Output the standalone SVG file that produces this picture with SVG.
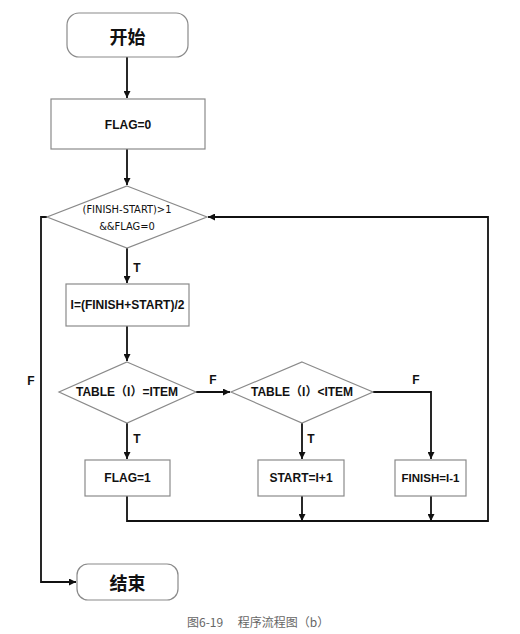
<svg xmlns="http://www.w3.org/2000/svg" width="520" height="634" viewBox="0 0 520 634">
<style>
.node{fill:#fff;stroke:#8a8a8a;stroke-width:1.2}
.t{font-family:"Liberation Sans","Noto Sans CJK SC",sans-serif;font-weight:bold;font-size:12px;fill:#111;text-anchor:middle;dominant-baseline:central}
.cn{font-family:"Noto Sans CJK SC",sans-serif;font-weight:bold;font-size:18px;fill:#111;text-anchor:middle;dominant-baseline:central}
.mono{font-family:"DejaVu Sans Condensed","Liberation Sans",sans-serif;font-size:11px;fill:#111;text-anchor:middle;dominant-baseline:central}
.c{fill:none;stroke:#111;stroke-width:1.8}
.cap{font-family:"Noto Sans CJK SC",sans-serif;font-size:12px;fill:#666}
</style>
<defs>
<marker id="a" viewBox="0 0 10 10" refX="10" refY="5" markerWidth="7" markerHeight="7" markerUnits="userSpaceOnUse" orient="auto">
<path d="M0,0 L10,5 L0,10 z" fill="#111"/>
</marker>
</defs>
<g id="connectors">
<path class="c" d="M127,57 V98" marker-end="url(#a)"/>
<path class="c" d="M127,149 V185" marker-end="url(#a)"/>
<path class="c" d="M127,248 V283" marker-end="url(#a)"/>
<path class="c" d="M127,326 V361" marker-end="url(#a)"/>
<path class="c" d="M196,392 H230" marker-end="url(#a)"/>
<path class="c" d="M127,423 V459" marker-end="url(#a)"/>
<path class="c" d="M302,423 V459" marker-end="url(#a)"/>
<path class="c" d="M373,392 H431 V459" marker-end="url(#a)"/>
<path class="c" d="M127,496 V521 H488 V217 H208" marker-end="url(#a)"/>
<path class="c" d="M302,496 V521" marker-end="url(#a)"/>
<path class="c" d="M431,496 V521" marker-end="url(#a)"/>
<path class="c" d="M47,217 H41 V582 H76" marker-end="url(#a)"/>
<text class="t" x="137" y="268">T</text>
<text class="t" x="137" y="439">T</text>
<text class="t" x="311" y="439">T</text>
<text class="t" x="213" y="380">F</text>
<text class="t" x="416" y="380">F</text>
<text class="t" x="31" y="381">F</text>
</g>
<g id="start">
<rect class="node" x="67" y="13" width="121" height="44" rx="12"/>
<text class="cn" x="127.5" y="36">开始</text>
</g>
<g id="init">
<rect class="node" x="51" y="99" width="154" height="50"/>
<text class="t" x="128" y="125">FLAG=0</text>
</g>
<g id="loop">
<polygon class="node" points="127,186 207,217 127,248 47,217"/>
<text class="mono" x="127" y="209">(FINISH-START)&gt;1</text>
<text class="mono" x="127" y="226">&amp;&amp;FLAG=0</text>
</g>
<g id="mid">
<rect class="node" x="66" y="284" width="123" height="42"/>
<text class="t" x="127.5" y="305">I=(FINISH+START)/2</text>
</g>
<g id="eq">
<polygon class="node" points="127,362 196,392 127,423 59,392"/>
<text class="t" x="127" y="392">TABLE（I）=ITEM</text>
</g>
<g id="lt">
<polygon class="node" points="302,362 373,392 302,423 231,392"/>
<text class="t" x="302" y="392">TABLE（I）&lt;ITEM</text>
</g>
<g id="flag1">
<rect class="node" x="85" y="460" width="85" height="36"/>
<text class="t" x="127.5" y="478">FLAG=1</text>
</g>
<g id="startinc">
<rect class="node" x="258" y="460" width="86" height="36"/>
<text class="t" x="301" y="478">START=I+1</text>
</g>
<g id="finishdec">
<rect class="node" x="395" y="460" width="71" height="36"/>
<text class="t" x="430.5" y="478" style="font-size:11.5px">FINISH=I-1</text>
</g>
<g id="end">
<rect class="node" x="77" y="564" width="101" height="36" rx="11"/>
<text class="cn" x="127.5" y="582">结束</text>
</g>
<text class="cap" x="187" y="627">图6-19　 程序流程图（b）</text>
</svg>
